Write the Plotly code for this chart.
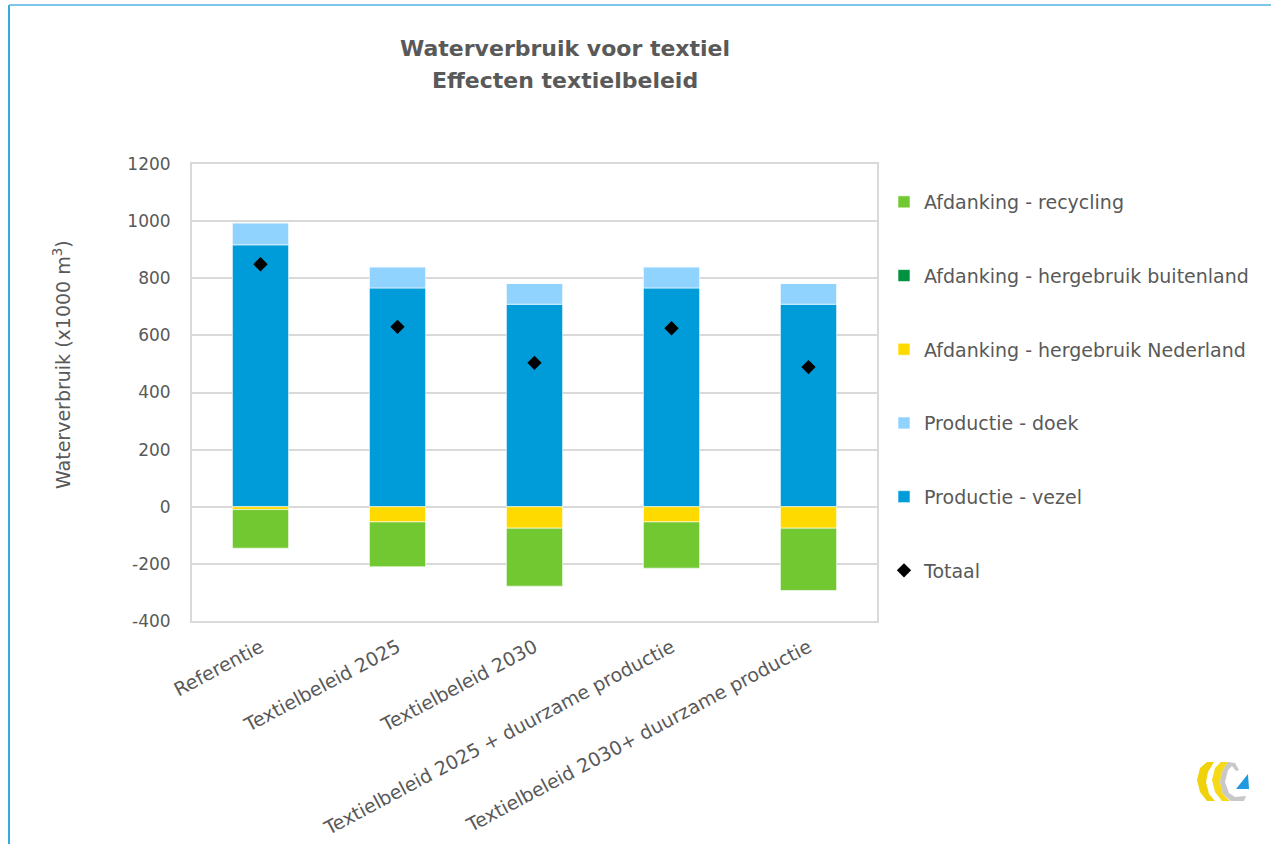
import plotly.graph_objects as go

categories = ["Referentie", "Textielbeleid 2025", "Textielbeleid 2030",
              "Textielbeleid 2025 + duurzame productie", "Textielbeleid 2030+ duurzame productie"]
productie_vezel = [917, 766, 709, 766, 709]
productie_doek = [77, 74, 73, 74, 73]
hergebruik_nl = [-10, -53, -75, -53, -75]
hergebruik_buitenland = [0, 0, 0, 0, 0]
recycling = [-135, -157, -203, -162, -218]
totaal = [849, 630, 504, 625, 489]
y_ticks = [-400, -200, 0, 200, 400, 600, 800, 1000, 1200]
y_tick_labels = ["-400", "-200", "0", "200", "400", "600", "800", "1000", "1200"]

FONT = "DejaVu Sans"
GREY = "#595959"

fig = go.Figure()
bar_line = dict(color="rgba(255,255,255,0.6)", width=1)
series = [
    ("Productie - vezel", productie_vezel, "#009CD9", 5),
    ("Productie - doek", productie_doek, "#8FD3FE", 4),
    ("Afdanking - hergebruik Nederland", hergebruik_nl, "#FFDA00", 3),
    ("Afdanking - hergebruik buitenland", hergebruik_buitenland, "#00923F", 2),
    ("Afdanking - recycling", recycling, "#72C831", 1),
]
for name, vals, col, rank in series:
    fig.add_trace(go.Bar(x=categories, y=vals, name=name, marker=dict(color=col, line=bar_line),
                         width=0.41, legendrank=rank, legendgroup=name))
fig.add_trace(go.Scatter(x=categories, y=totaal, name="Totaal", mode="markers",
                         marker=dict(symbol="diamond", color="black", size=11),
                         legendrank=6, legendgroup="Totaal"))

PL, PT, PW, PH = 192, 164, 685, 457
fig.update_layout(
    width=1271, height=844,
    barmode="relative",
    paper_bgcolor="white", plot_bgcolor="white",
    margin=dict(l=PL, r=1271 - PL - PW, t=PT, b=844 - PT - PH, autoexpand=False),
    font=dict(family=FONT, color=GREY, size=17),
    showlegend=True,
    legend=dict(x=(884 - PL) / PW, xanchor="left", y=1 - 19 / PH, yanchor="top", xref="paper", yref="paper",
                font=dict(size=19, color=GREY, family=FONT), tracegroupgap=46,
                itemwidth=30, bgcolor="rgba(0,0,0,0)", borderwidth=0),
)
fig.update_xaxes(showgrid=False, tickangle=-28, tickfont=dict(size=19, color=GREY),
                 showline=True, linecolor="#D9D9D9", mirror=True, linewidth=2, automargin=False,
                 ticks="outside", ticklen=6, tickcolor="rgba(0,0,0,0)", range=[-0.5, 4.5])
fig.update_yaxes(range=[-400, 1200], tickvals=y_ticks, ticktext=y_tick_labels,
                 showgrid=True, gridcolor="#D9D9D9", automargin=False,
                 gridwidth=1.5, zeroline=False, showline=True, linecolor="#D9D9D9",
                 mirror=True, linewidth=2, ticks="outside", ticklen=16, tickcolor="rgba(0,0,0,0)",
                 tickfont=dict(size=17, color=GREY))

def px(x):
    return (x - PL) / PW
def py(y):
    return (PT + PH - y) / PH

# y axis title
fig.add_annotation(text="Waterverbruik (x1000 m<sup>3</sup>)", xref="paper", yref="paper",
                   x=px(62), y=py(365), xanchor="center", yanchor="middle", textangle=-90,
                   showarrow=False, font=dict(size=19, color=GREY, family=FONT))

for txt, yc in [("Waterverbruik voor textiel", 48), ("Effecten textielbeleid", 80)]:
    fig.add_annotation(text=f"<b>{txt}</b>", xref="paper", yref="paper", x=px(565), y=py(yc),
                       xanchor="center", yanchor="middle", showarrow=False,
                       font=dict(size=22, color=GREY, family=FONT))

# chart frame (blue border at left/top)
fig.add_shape(type="line", xref="paper", yref="paper",
              x0=px(9), x1=px(9), y0=py(850), y1=py(5),
              line=dict(color="#38A8DD", width=2))
fig.add_shape(type="line", xref="paper", yref="paper",
              x0=px(9), x1=px(1280), y0=py(5), y1=py(5),
              line=dict(color="#7CC6EA", width=2))

# small logo bottom right (decorative)
def path_from_pts(pts):
    return "M " + " L ".join(f"{px(a):.5f},{py(b):.5f}" for a, b in pts) + " Z"
yellow1 = [(1207, 762), (1214, 762), (1208, 772), (1206, 782), (1209, 794), (1215, 801), (1207, 801), (1200, 792), (1197, 780), (1200, 768)]
yellow2 = [(1221, 762), (1228, 762), (1222, 772), (1220, 782), (1223, 794), (1230, 801), (1222, 801), (1215, 792), (1212, 780), (1215, 768)]
grey = [(1228, 762), (1235, 763), (1239, 770), (1236, 771), (1232, 766), (1228, 770), (1225, 782), (1229, 793), (1235, 797), (1246, 796), (1244, 801), (1231, 801), (1223, 794), (1220, 782), (1222, 772)]
blue = [(1236, 789), (1248, 774), (1249, 789)]
for pts, col in [(yellow1, "#F0D20C"), (yellow2, "#F6DA1A"), (grey, "#C8C8C8"), (blue, "#1E9BE0")]:
    fig.add_shape(type="path", xref="paper", yref="paper", path=path_from_pts(pts),
                  fillcolor=col, line=dict(width=0))

fig.write_html("out.html", config={"displayModeBar": False},
               post_script="document.body.style.margin='0';")
